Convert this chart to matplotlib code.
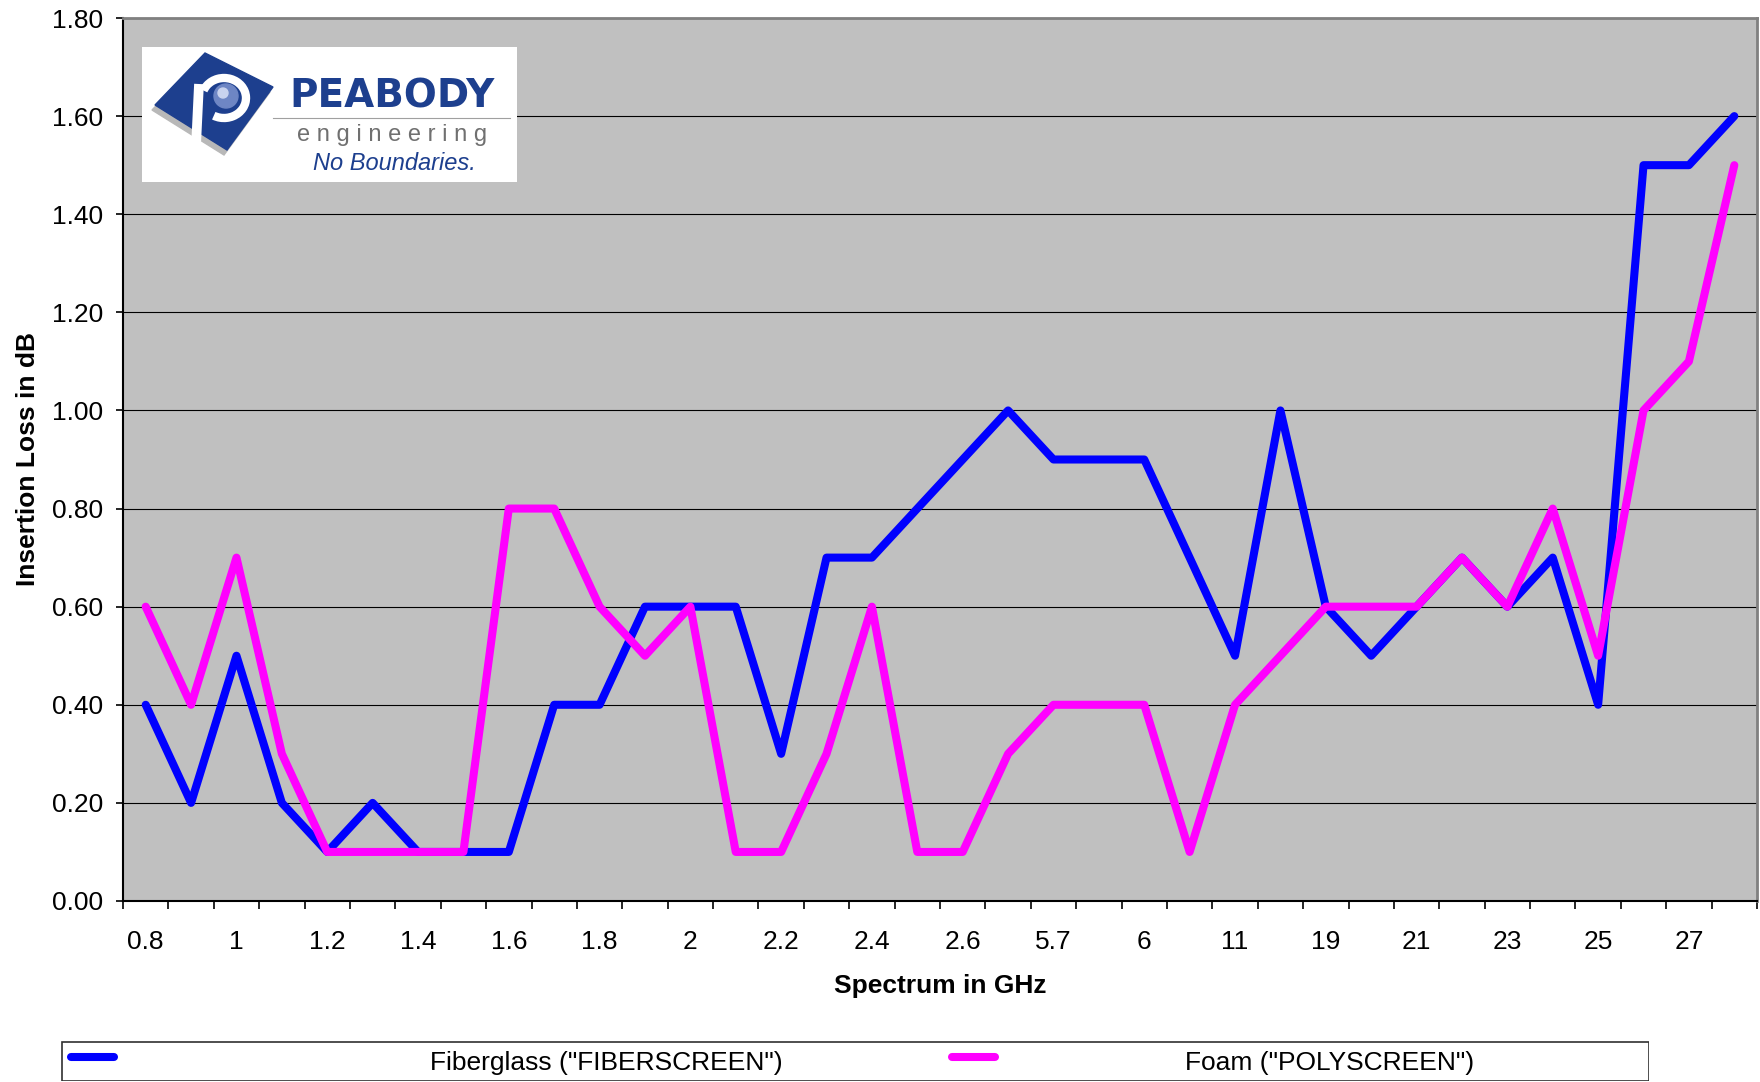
import numpy as np
import matplotlib
matplotlib.use("Agg")
import matplotlib.pyplot as plt
from matplotlib.patches import Polygon, Rectangle, Circle, Arc
from matplotlib.lines import Line2D

plt.rcParams['font.family'] = ['Liberation Sans', 'DejaVu Sans']

# frequency categories (every other one is labelled on the axis)
categories = ["0.8", "0.9", "1", "1.1", "1.2", "1.3", "1.4", "1.5", "1.6", "1.7",
              "1.8", "1.9", "2", "2.1", "2.2", "2.3", "2.4", "2.5", "2.6", "5.2",
              "5.7", "5.8", "6", "10", "11", "18", "19", "20", "21", "22",
              "23", "24", "25", "26", "27", "28"]

fiberscreen = [0.4, 0.2, 0.5, 0.2, 0.1, 0.2, 0.1, 0.1, 0.1, 0.4,
               0.4, 0.6, 0.6, 0.6, 0.3, 0.7, 0.7, 0.8, 0.9, 1.0,
               0.9, 0.9, 0.9, 0.7, 0.5, 1.0, 0.6, 0.5, 0.6, 0.7,
               0.6, 0.7, 0.4, 1.5, 1.5, 1.6]

polyscreen = [0.6, 0.4, 0.7, 0.3, 0.1, 0.1, 0.1, 0.1, 0.8, 0.8,
              0.6, 0.5, 0.6, 0.1, 0.1, 0.3, 0.6, 0.1, 0.1, 0.3,
              0.4, 0.4, 0.4, 0.1, 0.4, 0.5, 0.6, 0.6, 0.6, 0.7,
              0.6, 0.8, 0.5, 1.0, 1.1, 1.5]

series_names = ['Fiberglass ("FIBERSCREEN")', 'Foam ("POLYSCREEN")']
series_colors = ['#0000FF', '#FF00FF']

W, H = 1760, 1082
fig = plt.figure(figsize=(W / 100, H / 100), dpi=100)
ax = fig.add_axes([123 / W, 1 - 901 / H, (1757 - 123) / W, (901 - 18) / H])
ax.set_facecolor('#C0C0C0')

x = np.arange(len(categories))
for vals, col in zip([fiberscreen, polyscreen], series_colors):
    ax.plot(x, vals, color=col, lw=5.8, solid_capstyle='round',
            solid_joinstyle='round', zorder=3)

ax.set_xlim(-0.5, len(categories) - 0.5)
ax.set_ylim(0, 1.8)

# y axis
ax.set_yticks(np.arange(0, 1.81, 0.2))
ax.set_yticklabels([f"{v:.2f}" for v in np.arange(0, 1.81, 0.2)])
ax.yaxis.grid(True, color='black', lw=0.8)
ax.set_axisbelow(True)
ax.tick_params(axis='y', direction='out', length=5, width=1.2, pad=9,
               labelsize=19)

# x axis: tick marks between categories, labels on every other category
ax.set_xticks(np.arange(-0.5, len(categories), 1))
ax.set_xticklabels([])
ax.set_xticks(x[::2], minor=True)
ax.set_xticklabels(categories[::2], minor=True)
ax.tick_params(axis='x', which='major', direction='out', length=6, width=1.2)
ax.tick_params(axis='x', which='minor', length=0, pad=21, labelsize=19)

for side in ['left', 'bottom']:
    ax.spines[side].set_color('black')
    ax.spines[side].set_linewidth(1.5)
for side in ['top', 'right']:
    ax.spines[side].set_color('#808080')
    ax.spines[side].set_linewidth(2)

ax.set_ylabel("Insertion Loss in dB", fontsize=19, fontweight='bold', labelpad=9)
ax.set_xlabel("Spectrum in GHz", fontsize=19, fontweight='bold', labelpad=14)

# logo box (drawn in pixel units)
lg = fig.add_axes([142 / W, 1 - 182 / H, 375 / W, 135 / H])
lg.set_xlim(0, 375)
lg.set_ylim(0, 135)
lg.set_facecolor('white')
lg.set_xticks([])
lg.set_yticks([])
for s in lg.spines.values():
    s.set_visible(False)
navy = '#1D3F8E'
diamond = np.array([[63, 129], [131, 95], [85, 32], [13, 77]])
lg.add_patch(Polygon(diamond + [-3, -5], closed=True, color='#B8B8B8'))
lg.add_patch(Polygon(diamond, closed=True, color=navy))
lg.plot([57, 54], [98, 36], color='white', lw=7, solid_capstyle='butt')
lg.add_patch(Arc((82, 84), 44, 40, theta1=-120, theta2=160, color='white', lw=6))
lg.add_patch(Circle((84, 86), 12, color='#6E86C4'))
lg.add_patch(Circle((81, 89), 5, color='#C9D3EE'))
lg.text(250, 85, "PEABODY", color=navy, fontsize=28, fontweight='bold',
        family='DejaVu Sans', ha='center', va='center')
lg.plot([131, 368], [64, 64], color='#A0A0A0', lw=0.8)
lg.text(250, 47, "e n g i n e e r i n g", color='#707070', fontsize=17,
        ha='center', va='center')
lg.text(252, 19, "No Boundaries.", color=navy, fontsize=17, style='italic',
        ha='center', va='center')

# legend box
leg = fig.add_axes([61 / W, 1 / H, (1649 - 61) / W, 40 / H])
leg.set_xlim(0, 1588)
leg.set_ylim(0, 40)
leg.axis('off')
leg.add_patch(Rectangle((0.5, 0.5), 1587, 39, fill=False, ec='#303030', lw=1.2))
handle_x = [6, 887]
text_x = [545, 1269]
for name, col, hx, tx in zip(series_names, series_colors, handle_x, text_x):
    leg.add_line(Line2D([hx + 4, hx + 47], [24, 24], color=col, lw=5.8,
                        solid_capstyle='round'))
    leg.text(tx, 18, name, fontsize=19, ha='center', va='center')

fig.savefig("out.png", dpi=100)
